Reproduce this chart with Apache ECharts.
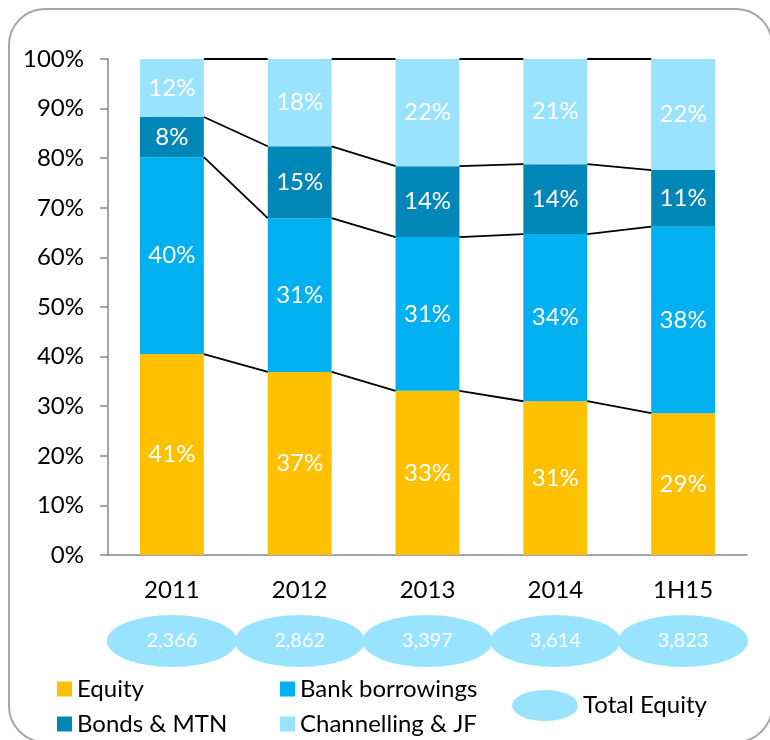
<!DOCTYPE html>
<html>
<head>
<meta charset="utf-8">
<script src="https://cdn.jsdelivr.net/npm/echarts@6/dist/echarts.min.js"></script>
<style>
  html, body { margin: 0; padding: 0; background: #fff; }
  #box { width: 770px; height: 740px; }
</style>
</head>
<body>
<div id="box"></div>
<script>
// data (shares in %)
var categories = ['2011', '2012', '2013', '2014', '1H15'];
var equity = [40.5, 36.9, 33.1, 31.0, 28.6];
var bankBorrowings = [39.7, 31.0, 31.0, 33.7, 37.6];
var bondsMtn = [8.1, 14.5, 14.3, 14.1, 11.4];
var channellingJf = [11.7, 17.6, 21.6, 21.2, 22.4];
var totalEquity = [2366, 2862, 3397, 3614, 3823];
var yTicks = ['0%', '10%', '20%', '30%', '40%', '50%', '60%', '70%', '80%', '90%', '100%'];

var FONT = 'Lato';
var colors = ['#FFC000', '#00B0F0', '#0087B8', '#99E3FF'];
var ellipse = 'path://M50,0A50,50 0 1,1 50,100A50,50 0 1,1 50,0z';

// cumulative tops for the series lines
var layers = [equity, bankBorrowings, bondsMtn, channellingJf];
var cum = [];
var run = categories.map(function () { return 0; });
layers.forEach(function (arr) {
  run = run.map(function (v, i) { return v + arr[i]; });
  cum.push(run.slice());
});

function barSeries(name, data, color) {
  return {
    name: name,
    type: 'bar',
    stack: 'total',
    barWidth: '50%',
    data: data,
    itemStyle: { color: color },
    label: {
      show: true,
      position: 'inside',
      color: '#fff',
      fontFamily: FONT,
      fontSize: 24,
      formatter: function (p) { return Math.round(p.value) + '%'; }
    }
  };
}

function legendAt(left, top, name, extra) {
  var l = {
    left: left,
    top: top,
    data: [name],
    icon: 'rect',
    itemWidth: 15,
    itemHeight: 15,
    itemGap: 8,
    selectedMode: false,
    textStyle: { fontFamily: FONT, fontSize: 24, color: '#000' }
  };
  for (var k in extra) l[k] = extra[k];
  return l;
}

var myChart = echarts.init(document.getElementById('box'));
var option = {
  backgroundColor: '#fff',
  animation: false,
  color: colors,
  graphic: [{
    type: 'rect',
    shape: { x: 9, y: 9, width: 763, height: 733, r: 36 },
    style: { fill: 'none', stroke: '#A6A6A6', lineWidth: 2 },
    z: -1
  }],
  legend: [
    legendAt(52, 672, 'Equity'),
    legendAt(275, 672, 'Bank borrowings'),
    legendAt(52, 707, 'Bonds & MTN'),
    legendAt(275, 707, 'Channelling & JF'),
    legendAt(507, 685, 'Total Equity', {
      icon: ellipse, symbolKeepAspect: false, itemWidth: 66, itemHeight: 31,
      itemStyle: { color: '#99E3FF' }
    })
  ],
  grid: [
    { left: 108, right: 23, top: 59, bottom: 185 },
    { left: 108, right: 23, top: 615, height: 52 }
  ],
  xAxis: [{
    type: 'category',
    gridIndex: 0,
    data: categories,
    axisLine: { lineStyle: { color: '#868686', width: 1.5 } },
    axisTick: { length: 8, lineStyle: { color: '#868686', width: 1.5 } },
    axisLabel: { color: '#000', fontFamily: FONT, fontSize: 24, margin: 23 }
  }, {
    type: 'category',
    gridIndex: 1,
    data: categories,
    show: false
  }],
  yAxis: [{
    type: 'value',
    gridIndex: 0,
    min: 0,
    max: 100,
    interval: 10,
    splitLine: { show: false },
    axisLine: { show: true, lineStyle: { color: '#868686', width: 1.5 } },
    axisTick: { show: true, length: 8, lineStyle: { color: '#868686', width: 1.5 } },
    axisLabel: {
      color: '#000', fontFamily: FONT, fontSize: 24, margin: 24,
      formatter: function (v) { return yTicks[Math.round(v / 10)]; }
    }
  }, {
    type: 'value',
    gridIndex: 1,
    min: 0,
    max: 1,
    show: false
  }],
  series: [
    barSeries('Equity', equity, colors[0]),
    barSeries('Bank borrowings', bankBorrowings, colors[1]),
    barSeries('Bonds & MTN', bondsMtn, colors[2]),
    barSeries('Channelling & JF', channellingJf, colors[3]),
    {
      // series lines between bar stacks
      type: 'custom',
      silent: true,
      z: 5,
      clip: false,
      data: categories.map(function (c, i) { return [i, 0]; }),
      renderItem: function (params, api) {
        var i = params.dataIndex;
        if (i >= categories.length - 1) return null;
        var band = api.size([1, 0])[0];
        var half = band / 4;
        var children = cum.map(function (arr) {
          var a = api.coord([i, arr[i]]);
          var b = api.coord([i + 1, arr[i + 1]]);
          return {
            type: 'line',
            shape: { x1: a[0] + half, y1: a[1], x2: b[0] - half, y2: b[1] },
            style: { stroke: '#000', lineWidth: 1.8 }
          };
        });
        return { type: 'group', children: children };
      }
    },
    {
      name: 'Total Equity',
      type: 'scatter',
      xAxisIndex: 1,
      yAxisIndex: 1,
      symbol: ellipse,
      symbolKeepAspect: false,
      symbolSize: [130, 52],
      itemStyle: { color: '#99E3FF', opacity: 1 },
      data: totalEquity.map(function (v) { return 0.5; }),
      label: {
        show: true,
        position: 'inside',
        color: '#fff',
        fontFamily: FONT,
        fontSize: 20,
        formatter: function (p) { return totalEquity[p.dataIndex].toLocaleString('en-US'); }
      }
    }
  ]
};
myChart.setOption(option);
</script>
</body>
</html>
